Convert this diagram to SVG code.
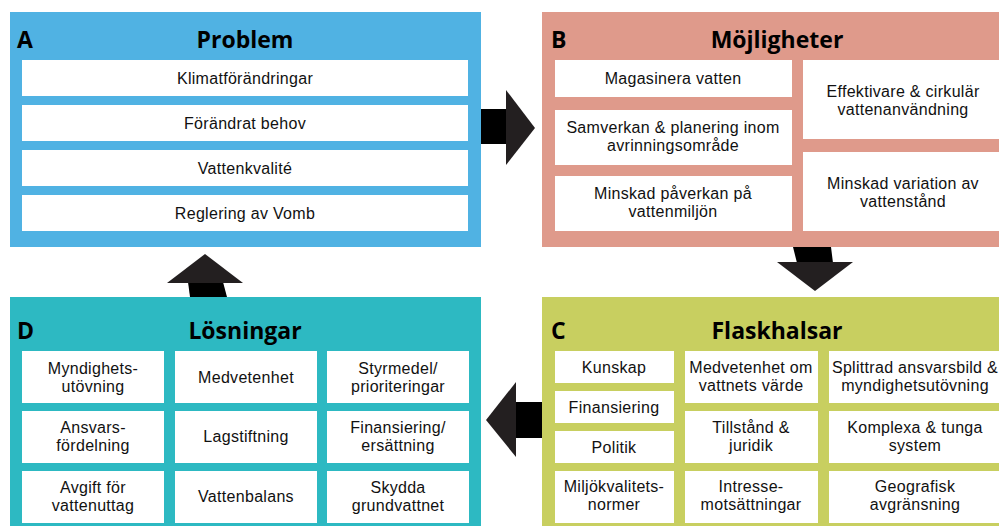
<svg xmlns="http://www.w3.org/2000/svg" width="999" height="526" viewBox="0 0 999 526">
<style>
.cell{fill:#ffffff}
.t{font-family:"Liberation Sans",Arial,sans-serif;font-size:16px;letter-spacing:0.3px;fill:#111;text-anchor:middle}
.h{font-family:"Open Sans","Liberation Sans",sans-serif;font-size:23px;font-weight:bold;fill:#000;text-anchor:middle}
.l{font-family:"Open Sans","Liberation Sans",sans-serif;font-size:23px;font-weight:bold;fill:#000}
.shaft{fill:#000}
.head{fill:#231f20}
</style>
<rect width="999" height="526" fill="#fff"/>
<g id="panelA">
<rect x="10" y="12" width="471" height="235" fill="#50b2e3"/>
<text class="l" x="17" y="48">A</text>
<text class="h" x="245" y="48">Problem</text>
<rect class="cell" x="22" y="60" width="446" height="36"/>
<rect class="cell" x="22" y="105" width="446" height="36"/>
<rect class="cell" x="22" y="150" width="446" height="36"/>
<rect class="cell" x="22" y="195" width="446" height="36"/>
<text class="t" x="245" y="84">Klimatförändringar</text>
<text class="t" x="245" y="129">Förändrat behov</text>
<text class="t" x="245" y="174">Vattenkvalité</text>
<text class="t" x="245" y="219">Reglering av Vomb</text>
</g>
<g id="panelB">
<rect x="542" y="12" width="457" height="235" fill="#df9a8b"/>
<text class="l" x="551" y="48">B</text>
<text class="h" x="777" y="48">Möjligheter</text>
<rect class="cell" x="555" y="60" width="237" height="37"/>
<rect class="cell" x="555" y="110" width="237" height="55"/>
<rect class="cell" x="555" y="176" width="237" height="55"/>
<rect class="cell" x="803" y="60" width="196" height="79"/>
<rect class="cell" x="803" y="152" width="196" height="79"/>
<text class="t" x="673" y="84">Magasinera vatten</text>
<text class="t" x="673" y="133">Samverkan &amp; planering inom<tspan x="673" dy="18">avrinningsområde</tspan></text>
<text class="t" x="673" y="199">Minskad påverkan på<tspan x="673" dy="18">vattenmiljön</tspan></text>
<text class="t" x="903" y="97">Effektivare &amp; cirkulär<tspan x="903" dy="18">vattenanvändning</tspan></text>
<text class="t" x="903" y="189">Minskad variation av<tspan x="903" dy="18">vattenstånd</tspan></text>
</g>
<g id="panelC">
<rect x="542" y="297" width="457" height="229" fill="#c8cf60"/>
<text class="l" x="551" y="339">C</text>
<text class="h" x="777" y="339">Flaskhalsar</text>
<rect class="cell" x="555" y="351" width="119" height="32"/>
<rect class="cell" x="555" y="391" width="119" height="32"/>
<rect class="cell" x="555" y="431" width="119" height="32"/>
<rect class="cell" x="555" y="471" width="119" height="52"/>
<rect class="cell" x="685" y="351" width="133" height="52"/>
<rect class="cell" x="685" y="411" width="133" height="52"/>
<rect class="cell" x="685" y="471" width="133" height="52"/>
<rect class="cell" x="829" y="351" width="170" height="52"/>
<rect class="cell" x="829" y="411" width="170" height="52"/>
<rect class="cell" x="829" y="471" width="170" height="52"/>
<text class="t" x="614" y="373">Kunskap</text>
<text class="t" x="614" y="413">Finansiering</text>
<text class="t" x="614" y="453">Politik</text>
<text class="t" x="614" y="492">Miljökvalitets-<tspan x="614" dy="18">normer</tspan></text>
<text class="t" x="751" y="373">Medvetenhet om<tspan x="751" dy="18">vattnets värde</tspan></text>
<text class="t" x="751" y="433">Tillstånd &amp;<tspan x="751" dy="18">juridik</tspan></text>
<text class="t" x="751" y="492">Intresse-<tspan x="751" dy="18">motsättningar</tspan></text>
<text class="t" x="915" y="373">Splittrad ansvarsbild &amp;<tspan x="915" dy="18">myndighetsutövning</tspan></text>
<text class="t" x="915" y="433">Komplexa &amp; tunga<tspan x="915" dy="18">system</tspan></text>
<text class="t" x="915" y="492">Geografisk<tspan x="915" dy="18">avgränsning</tspan></text>
</g>
<g id="panelD">
<rect x="10" y="297" width="471" height="229" fill="#2db9c2"/>
<text class="l" x="17" y="339">D</text>
<text class="h" x="245" y="339">Lösningar</text>
<rect class="cell" x="22" y="351" width="142" height="52"/>
<rect class="cell" x="175" y="351" width="142" height="52"/>
<rect class="cell" x="327" y="351" width="142" height="52"/>
<rect class="cell" x="22" y="411" width="142" height="52"/>
<rect class="cell" x="175" y="411" width="142" height="52"/>
<rect class="cell" x="327" y="411" width="142" height="52"/>
<rect class="cell" x="22" y="471" width="142" height="52"/>
<rect class="cell" x="175" y="471" width="142" height="52"/>
<rect class="cell" x="327" y="471" width="142" height="52"/>
<text class="t" x="93" y="374">Myndighets-<tspan x="93" dy="18">utövning</tspan></text>
<text class="t" x="246" y="383">Medvetenhet</text>
<text class="t" x="398" y="374">Styrmedel/<tspan x="398" dy="18">prioriteringar</tspan></text>
<text class="t" x="93" y="433">Ansvars-<tspan x="93" dy="18">fördelning</tspan></text>
<text class="t" x="246" y="442">Lagstiftning</text>
<text class="t" x="398" y="433">Finansiering/<tspan x="398" dy="18">ersättning</tspan></text>
<text class="t" x="93" y="493">Avgift för<tspan x="93" dy="18">vattenuttag</tspan></text>
<text class="t" x="246" y="502">Vattenbalans</text>
<text class="t" x="398" y="493">Skydda<tspan x="398" dy="18">grundvattnet</tspan></text>
</g>
<g id="connectors">
<polygon class="shaft" points="481,109 507,109 507,144 481,144"/>
<polygon class="head" points="506,90 535,128 506,165"/>
<polygon class="shaft" points="793,247 831,247 833,263 797,263"/>
<polygon class="head" points="777,262 853,262 815,291"/>
<polygon class="shaft" points="515,402 542,402 542,438 515,438"/>
<polygon class="head" points="516,382 486,420 516,457"/>
<polygon class="shaft" points="188,282 223,282 227,297 190,297"/>
<polygon class="head" points="167,283 205,254 243,283"/>
</g>
</svg>
